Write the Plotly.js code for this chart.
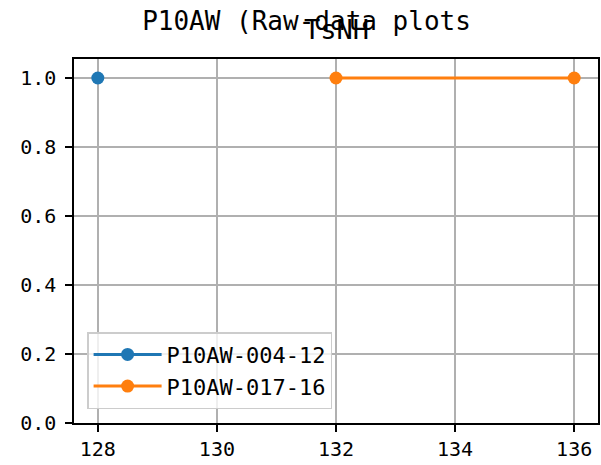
<!DOCTYPE html>
<html>
<head>
<meta charset="utf-8">
<script src="https://cdn.plot.ly/plotly-3.0.1.min.js"></script>
<style>html,body{margin:0;padding:0;background:#fff;}</style>
</head>
<body>
<div id="chart" style="width:601px;height:465px;"></div>
<script>
const suptitle = "P10AW (Raw-data plots";
const subtitle = "TsNH";
const seriesNames = ["P10AW-004-12", "P10AW-017-16"];
const xA = [128];
const yA = [1.0];
const xB = [132, 136];
const yB = [1.0, 1.0];
const xTicks = [128, 130, 132, 134, 136];
const yTicks = [0.0, 0.2, 0.4, 0.6, 0.8, 1.0];

const FONT = "DejaVu Sans Mono, Liberation Mono, monospace";
const colors = ["#1f77b4", "#ff7f0e"];

const traces = [
  {x: xA, y: yA, name: seriesNames[0], mode: "lines+markers", type: "scatter",
   line: {color: colors[0], width: 3}, marker: {color: colors[0], size: 13}},
  {x: xB, y: yB, name: seriesNames[1], mode: "lines+markers", type: "scatter",
   line: {color: colors[1], width: 3}, marker: {color: colors[1], size: 13}}
];

const axisCommon = {
  showline: true, linecolor: "#000", linewidth: 1.6, mirror: true,
  ticks: "outside", ticklen: 7, tickwidth: 1.6, tickcolor: "#000",
  showgrid: true, gridcolor: "#b0b0b0", gridwidth: 1.6,
  zeroline: false, tickfont: {family: FONT, size: 20, color: "#000"}
};

const layout = {
  width: 601, height: 465,
  margin: {l: 74, r: 3, t: 59, b: 42},
  paper_bgcolor: "#fff", plot_bgcolor: "#fff",
  font: {family: FONT, color: "#000"},
  title: {text: suptitle, font: {family: FONT, size: 26, color: "#000"},
          xref: "container", x: 0.51, xanchor: "center",
          yref: "container", y: 0.955, yanchor: "middle"},
  xaxis: Object.assign({}, axisCommon, {range: [127.6, 136.4], tickvals: xTicks, ticktext: xTicks.map(String)}),
  yaxis: Object.assign({}, axisCommon, {range: [0, 1.055], tickvals: yTicks, ticktext: yTicks.map(v => v.toFixed(1)), ticklabelstandoff: 5}),
  showlegend: true,
  legend: {x: 0.025, y: 0.038, xanchor: "left", yanchor: "bottom",
           bgcolor: "rgba(255,255,255,0.8)", bordercolor: "#cccccc", borderwidth: 1.5,
           font: {family: FONT, size: 22, color: "#000"}, itemwidth: 68},
  annotations: [{text: subtitle, xref: "paper", yref: "paper", x: 0.5, y: 1, xanchor: "center", yanchor: "bottom",
                 yshift: 12, showarrow: false, font: {family: FONT, size: 27, color: "#000"}}]
};

Plotly.newPlot("chart", traces, layout, {displayModeBar: false, staticPlot: true});
</script>
</body>
</html>
